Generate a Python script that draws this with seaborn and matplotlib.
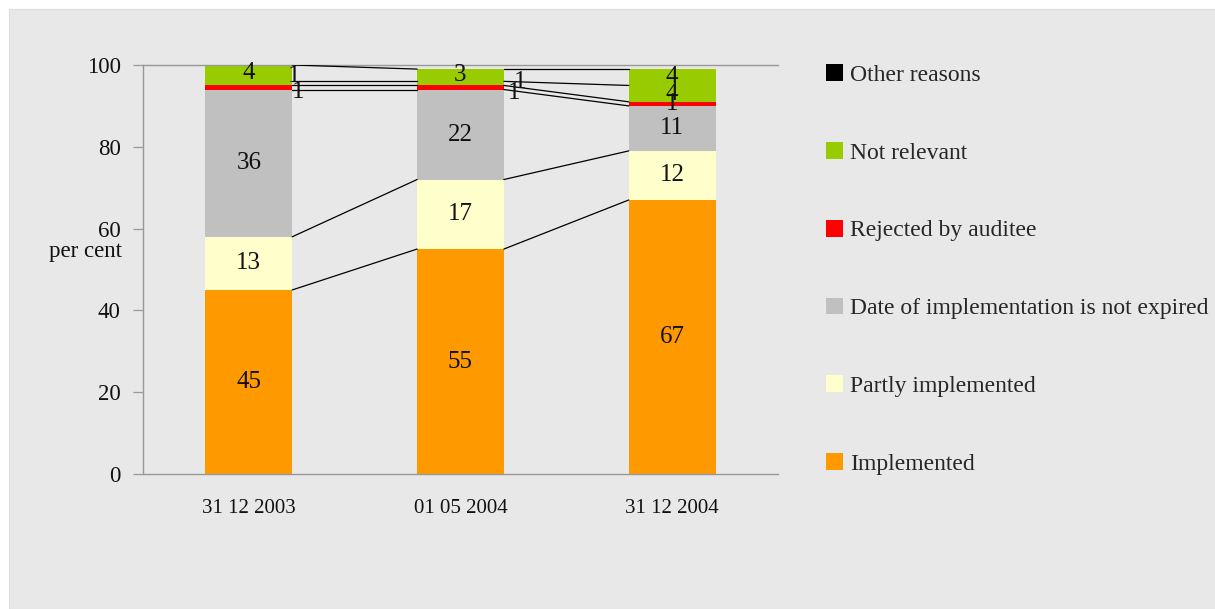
import numpy as np
import pandas as pd
import matplotlib
matplotlib.use("Agg")
import matplotlib.pyplot as plt
from matplotlib.patches import Patch, Rectangle
import seaborn as sns

# Status of audit recommendations, per cent of all recommendations
dates = ["31 12 2003", "01 05 2004", "31 12 2004"]
implemented = [45, 55, 67]
partly_implemented = [13, 17, 12]
not_expired = [36, 22, 11]
rejected = [1, 1, 1]
other_reasons = [1, 1, 4]
not_relevant = [4, 3, 4]

series_names = ["Implemented", "Partly implemented",
                "Date of implementation is not expired",
                "Rejected by auditee", "Other reasons", "Not relevant"]
series_values = [implemented, partly_implemented, not_expired,
                 rejected, other_reasons, not_relevant]
# fill colours of the stacked segments (bottom to top)
fill_colors = ["#ff9900", "#ffffcc", "#c0c0c0", "#ff0000", "#99cc00", "#99cc00"]
# colours shown in the key
key_colors = ["#ff9900", "#ffffcc", "#c0c0c0", "#ff0000", "#000000", "#99cc00"]
key_order = [4, 5, 3, 2, 1, 0]

# thin segments whose labels sit beside the bar: (series, bar) -> offset in points
side_labels = {(4, 0): (1.5, 5.3), (3, 0): (4.3, -2.9),
               (4, 1): (12.0, 0.9), (3, 1): (7.2, -3.8)}

sns.set_theme(style="white")
plt.rcParams["font.family"] = ["Liberation Serif", "DejaVu Serif"]

BG = "#e8e8e8"
fig = plt.figure(figsize=(12.15, 6.09), dpi=100)
fig.patch.set_facecolor("white")
fig.patches.append(Rectangle((9 / 1215, 0), 1, (609 - 9) / 609,
                             transform=fig.transFigure, facecolor=BG,
                             edgecolor="#dddddd", lw=0.8, zorder=-10))

ax = fig.add_axes([143 / 1215, (609 - 474) / 609, 635 / 1215, 409 / 609])
ax.set_facecolor(BG)

vals = np.array(series_values, dtype=float)
cum = np.cumsum(vals, axis=0)
bar_w = 0.41

# stacked bars: draw cumulative totals from the top layer downwards
for i in range(len(series_names) - 1, -1, -1):
    df = pd.DataFrame({"date": dates, "value": cum[i]})
    sns.barplot(data=df, x="date", y="value", order=dates, ax=ax,
                color=fill_colors[i], saturation=1, width=bar_w,
                linewidth=0, errorbar=None, zorder=2)

# series lines joining the top of each segment between neighbouring bars
for i in range(len(series_names)):
    for j in range(len(dates) - 1):
        ax.plot([j + bar_w / 2, j + 1 - bar_w / 2], [cum[i][j], cum[i][j + 1]],
                color="black", lw=0.9, zorder=3)

# value labels
label_fs = 18
for i in range(len(series_names)):
    for j in range(len(dates)):
        v = vals[i][j]
        mid = cum[i][j] - v / 2
        if (i, j) in side_labels:
            ax.annotate(f"{int(v)}", xy=(j + bar_w / 2, mid),
                        xytext=side_labels[(i, j)], textcoords="offset points",
                        ha="center", va="center", fontsize=label_fs,
                        color="#111111", zorder=4)
        else:
            ax.text(j, mid, f"{int(v)}", ha="center", va="center",
                    fontsize=label_fs, color="#111111", zorder=4)

ax.set_ylim(0, 100)
ax.set_xlim(-0.5, 2.5)
ax.set_yticks([0, 20, 40, 60, 80, 100])
ax.set_yticklabels(["0", "20", "40", "60", "80", "100"], fontsize=16.5)
ax.set_xticks(range(len(dates)))
ax.set_xticklabels(dates, fontsize=15)
ax.set_xticks([-0.5, 0.5, 1.5, 2.5], minor=True)
ax.tick_params(axis="x", which="major", length=0, pad=18, colors="#111111")
ax.tick_params(axis="x", which="minor", length=7, width=0.9, color="#999999",
               direction="out")
ax.tick_params(axis="y", length=7, width=0.9, color="#999999", pad=9,
               direction="out", labelcolor="#111111", left=True)
ax.set_xlabel("")
ax.set_ylabel("per cent", rotation=0, ha="right", va="center", fontsize=16.5,
              color="#111111")
ax.yaxis.set_label_coords(-0.033, 0.543)

for side in ["left", "bottom", "top"]:
    ax.spines[side].set_visible(True)
    ax.spines[side].set_color("#999999")
    ax.spines[side].set_linewidth(1.0)
ax.spines["right"].set_visible(False)

handles = [Patch(facecolor=key_colors[k], edgecolor="none") for k in key_order]
labels = [series_names[k] for k in key_order]
fig.legend(handles, labels, loc="upper left",
           bbox_to_anchor=(826 / 1215, (609 - 64) / 609),
           frameon=False, fontsize=17, handlelength=0.72, handleheight=0.72,
           handletextpad=0.3, labelspacing=2.38, borderpad=0,
           borderaxespad=0)

fig.savefig("out.png", dpi=100, facecolor=fig.get_facecolor())
